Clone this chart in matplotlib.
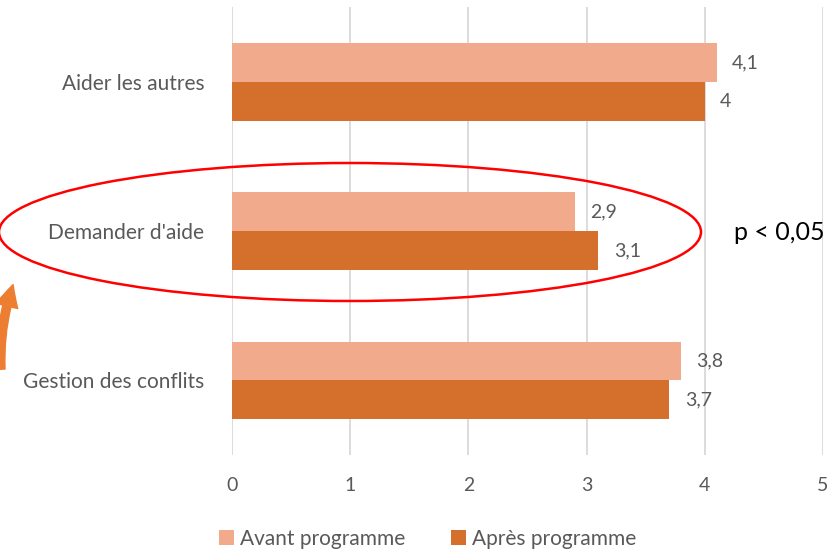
import matplotlib.pyplot as plt
import numpy as np
from matplotlib.patches import Ellipse, FancyArrowPatch

categories = ["Aider les autres", "Demander d'aide", "Gestion des conflits"]
avant = [4.1, 2.9, 3.8]
apres = [4.0, 3.1, 3.7]
series_names = ["Avant programme", "Après programme"]

c_avant = "#F2AA8C"
c_apres = "#D4702B"
grey = "#595959"

plt.rcParams['font.family'] = ['Lato', 'DejaVu Sans']

fig = plt.figure(figsize=(8.39, 5.51), dpi=100)
ax = fig.add_axes([0.2765, 0.174, 0.7045, 0.813])

y = np.arange(len(categories))
h = 0.26
b1 = ax.barh(y - h / 2, avant, height=h, color=c_avant, label=series_names[0], zorder=3)
b2 = ax.barh(y + h / 2, apres, height=h, color=c_apres, label=series_names[1], zorder=3)

# data labels with decimal comma
for bars, vals in [(b1, avant), (b2, apres)]:
    for bar, v in zip(bars, vals):
        txt = f"{v:g}".replace(".", ",")
        ax.text(v + 0.13, bar.get_y() + bar.get_height() / 2, txt,
                va="center", ha="left", fontsize=14, color=grey)

ax.set_xlim(0, 5)
ax.set_ylim(2.5, -0.5)
ax.set_xticks(range(6))
ax.set_yticks(y)
ax.set_yticklabels(categories)
ax.tick_params(axis="both", length=0, labelsize=14, labelcolor=grey)
ax.tick_params(axis="y", labelsize=15, pad=20)
ax.tick_params(axis="x", pad=16)
ax.grid(axis="x", color="#D9D9D9", linewidth=1.3, zorder=0)
for s in ax.spines.values():
    s.set_visible(False)

# annotation: ellipse around "Demander d'aide" + p value + arrow
ell = Ellipse((350 / 839, 1 - 232 / 551), 702 / 839, 138 / 551,
              transform=fig.transFigure, fill=False, edgecolor="#FF0000",
              linewidth=1.8, clip_on=False, zorder=5)
fig.patches.append(ell)
fig.text(734 / 839, 1 - 232 / 551, "p < 0,05", fontsize=18, color="black",
         va="center", ha="left")
arrow = FancyArrowPatch((1 / 839, 1 - 372 / 551), (14 / 839, 1 - 282 / 551),
                        transform=fig.transFigure, connectionstyle="arc3,rad=-0.1",
                        arrowstyle="simple,head_width=16,head_length=16,tail_width=6",
                        color="#ED7D31", clip_on=False)
fig.patches.append(arrow)

fig.legend(handles=[b1, b2], labels=series_names, loc="center",
           bbox_to_anchor=(0.51, 1 - 539 / 551), ncol=2, frameon=False,
           fontsize=15, labelcolor=grey, handlelength=0.7, handleheight=0.7,
           columnspacing=2.2, handletextpad=0.3)

fig.savefig("out.png", dpi=100)
